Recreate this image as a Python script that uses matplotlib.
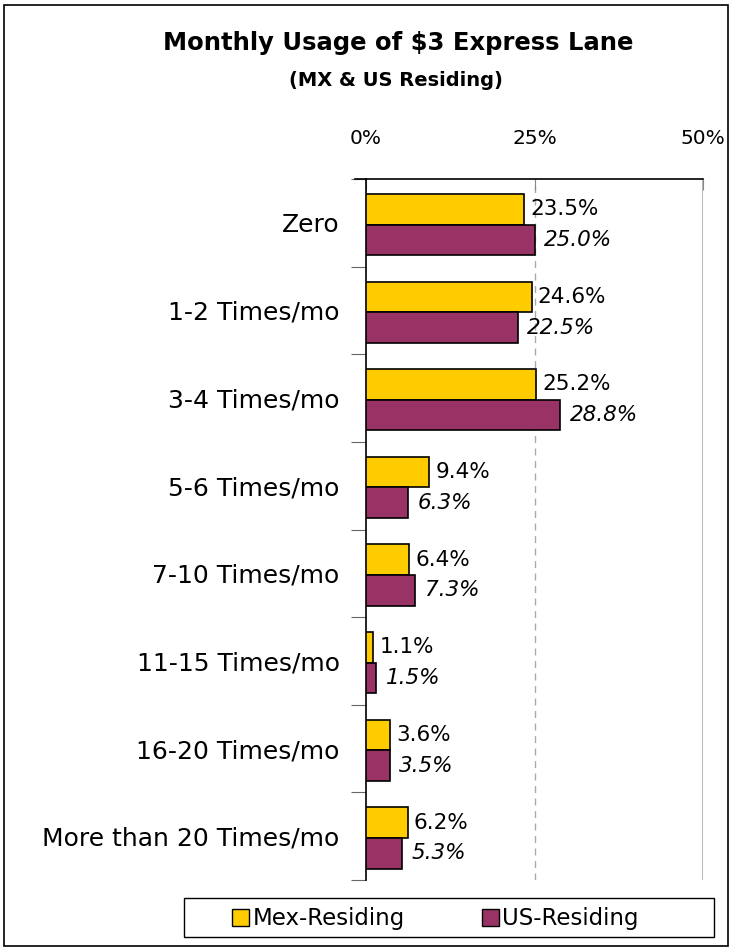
import matplotlib
matplotlib.use("Agg")
import matplotlib.pyplot as plt
from matplotlib.patches import Rectangle
import numpy as np

categories = ["Zero", "1-2 Times/mo", "3-4 Times/mo", "5-6 Times/mo", "7-10 Times/mo",
              "11-15 Times/mo", "16-20 Times/mo", "More than 20 Times/mo"]
mex = [23.5, 24.6, 25.2, 9.4, 6.4, 1.1, 3.6, 6.2]
us = [25.0, 22.5, 28.8, 6.3, 7.3, 1.5, 3.5, 5.3]
xticks = [0, 25, 50]
xticklabels = ["0%", "25%", "50%"]
series_names = ["Mex-Residing", "US-Residing"]
colors = ["#FFCC00", "#993366"]

W, H = 733, 950
fig = plt.figure(figsize=(W/100, H/100), dpi=100)
ax = fig.add_axes([366/W, 1-880/H, (703-366)/W, (880-179)/H])

n = len(categories)
y = np.arange(n)
bh = 0.35
off = 0.02
ax.barh(y - bh/2 + off, mex, height=bh, color=colors[0], edgecolor="black", linewidth=1.2, zorder=3)
ax.barh(y + bh/2 + off, us, height=bh, color=colors[1], edgecolor="black", linewidth=1.2, zorder=3)

for i in range(n):
    ax.text(mex[i] + 0.9, y[i] - bh/2 + off, f"{mex[i]:.1f}%", va="center", ha="left",
            fontsize=15.5, color="black")
    ax.text(us[i] + 1.4, y[i] + bh/2 + off, f"{us[i]:.1f}%", va="center", ha="left",
            fontsize=15.5, color="black", style="italic")

ax.set_xlim(0, 50)
ax.set_ylim(n - 0.5, -0.5)
ax.axvline(25, color="#aaaaaa", linestyle=(0, (5, 4)), linewidth=1, zorder=1)
ax.axvline(50, color="#aaaaaa", linewidth=1.2, zorder=1)

ax.xaxis.tick_top()
ax.set_xticks(xticks)
ax.set_xticklabels(xticklabels, fontsize=14.5)
ax.tick_params(axis="x", direction="in", length=8, color="#888888", pad=22)

ax.set_yticks(np.arange(-0.5, n, 1.0))
ax.set_yticklabels([])
ax.set_yticks(y, minor=True)
ax.set_yticklabels(categories, minor=True, fontsize=18)
ax.tick_params(axis="y", which="major", direction="out", length=11, color="#666666")
ax.tick_params(axis="y", which="minor", length=0, pad=19)

for s in ["right", "bottom"]:
    ax.spines[s].set_visible(False)
ax.spines["top"].set_color("black")
ax.spines["left"].set_color("black")
ax.spines["left"].set_linewidth(1.2)
ax.spines["top"].set_linewidth(1.2)
fig.add_artist(plt.Line2D([355/W, 366/W], [1-179/H, 1-179/H], color="black", linewidth=1.2))

fig.text(398/W, 1-43/H, "Monthly Usage of \\$3 Express Lane", ha="center", va="center",
         fontsize=17.5, fontweight="bold")
fig.text(396/W, 1-81/H, "(MX & US Residing)", ha="center", va="center",
         fontsize=14, fontweight="bold")

# legend box
fig.add_artist(Rectangle((184/W, 1-937/H), (714-184)/W, (937-898)/H, transform=fig.transFigure,
                         facecolor="white", edgecolor="black", linewidth=1))
fig.add_artist(Rectangle((232/W, 1-926/H), 17/W, 17/H, transform=fig.transFigure,
                         facecolor=colors[0], edgecolor="black", linewidth=1))
fig.text(253/W, 1-918/H, series_names[0], ha="left", va="center", fontsize=16.5)
fig.add_artist(Rectangle((482/W, 1-926/H), 17/W, 17/H, transform=fig.transFigure,
                         facecolor=colors[1], edgecolor="black", linewidth=1))
fig.text(502/W, 1-918/H, series_names[1], ha="left", va="center", fontsize=16.5)

# outer border
fig.add_artist(Rectangle((4/W, 4/H), (W-9)/W, (H-9)/H, transform=fig.transFigure,
                         facecolor="none", edgecolor="black", linewidth=1.2))

fig.savefig("out.png", dpi=100)
